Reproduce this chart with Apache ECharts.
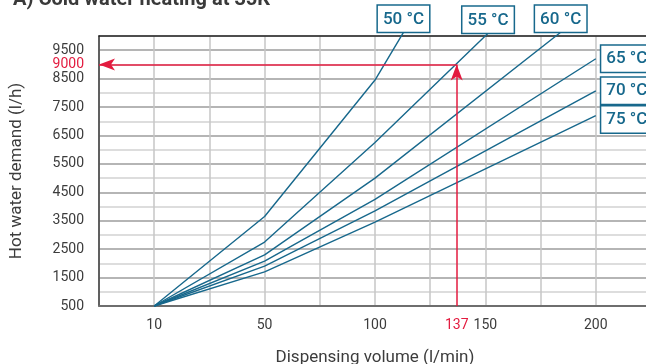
<!DOCTYPE html>
<html>
<head>
<meta charset="utf-8">
<script src="https://cdn.jsdelivr.net/npm/echarts@6/dist/echarts.min.js"></script>
<style>
  html, body { margin: 0; padding: 0; background: #ffffff; }
  #chart { width: 646px; height: 364px; }
</style>
</head>
<body>
<div id="chart"></div>
<script>
// Hot water demand (l/h) against dispensing volume (l/min), one curve per outlet temperature
const tempLabels = ['50 °C', '55 °C', '60 °C', '65 °C', '70 °C', '75 °C'];

const vol50 = [10, 50, 100, 112.9];
const dem50 = [500, 3650, 8450, 10130];
const vol55 = [10, 50, 100, 151.2];
const dem55 = [500, 2750, 6250, 10095];
const vol60 = [10, 50, 100, 184.1];
const dem60 = [500, 2300, 5000, 10130];
const vol65 = [10, 50, 100, 200];
const dem65 = [500, 2080, 4250, 9200];
const vol70 = [10, 50, 100, 200];
const dem70 = [500, 1900, 3850, 8070];
const vol75 = [10, 50, 100, 200];
const dem75 = [500, 1700, 3450, 7200];

const xTickValues = [10, 50, 100, 150, 200];
const yTickValues = [500, 1500, 2500, 3500, 4500, 5500, 6500, 7500, 8500, 9500];

// reading example: 137 l/min at 55 °C needs 9000 l/h
const lookupVolume = 137;
const lookupDemand = 9000;

const volumes = [vol50, vol55, vol60, vol65, vol70, vol75];
const demands = [dem50, dem55, dem60, dem65, dem70, dem75];

// The volume axis is stretched below 50 l/min: one grid cell is 20 l/min there and 25 l/min above.
const volToAxis = v => (v <= 50 ? 1 + (v - 10) / 20 : 3 + (v - 50) / 25);
const axisToVol = p => Math.round(p <= 3 ? 10 + (p - 1) * 20 : 50 + (p - 3) * 25);

const TEAL = '#17688c';
const RED = '#e31b3f';
const TEXT = '#3c3c3c';
const FONT = 'Roboto';

const boxLabel = {
  show: true,
  color: TEAL,
  fontFamily: FONT,
  fontSize: 17,
  fontWeight: 500,
  backgroundColor: '#ffffff',
  borderColor: TEAL,
  borderWidth: 1.5,
  padding: [5, 5, 4, 5]
};

const series = volumes.map((vols, i) => {
  const onTop = i < 3;
  const data = vols.map((v, k) => {
    const item = { value: [volToAxis(v), demands[i][k]] };
    if (k === vols.length - 1) {
      item.label = Object.assign({}, boxLabel, {
        formatter: tempLabels[i],
        position: onTop ? 'top' : 'right',
        distance: onTop ? 0 : 5,
        offset: i === 5 ? [0, 4] : [0, 0]
      });
    }
    return item;
  });
  return {
    type: 'line',
    name: tempLabels[i],
    data: data,
    clip: false,
    symbol: 'circle',
    symbolSize: 1,
    showSymbol: true,
    itemStyle: { color: 'rgba(0,0,0,0)' },
    lineStyle: { color: TEAL, width: 1.4 },
    label: { show: false },
    silent: true,
    z: 3
  };
});

// red reading arrows: up from the volume, then across to the demand axis
series.push({
  type: 'line',
  data: [],
  silent: true,
  z: 4,
  markLine: {
    silent: true,
    symbol: ['none', 'arrow'],
    symbolSize: [9, 16],
    label: { show: false },
    lineStyle: { color: RED, width: 1.5, type: 'solid' },
    data: [
      [{ coord: [volToAxis(lookupVolume), 500] }, { coord: [volToAxis(lookupVolume), lookupDemand] }],
      [{ coord: [volToAxis(lookupVolume), lookupDemand] }, { coord: [0, lookupDemand] }]
    ]
  }
});

const chart = echarts.init(document.getElementById('chart'), null, { renderer: 'canvas' });
chart.setOption({
  animation: false,
  backgroundColor: '#ffffff',
  title: {
    text: 'A) Cold water heating at 35K',
    left: 8,
    top: -15,
    textStyle: { fontFamily: FONT, fontSize: 20, fontWeight: 'bold', color: '#3a3a3a' }
  },
  grid: { left: 99, top: 36, width: 552, bottom: 58, outerBoundsMode: 'none', containLabel: false },
  xAxis: [{
    type: 'value',
    min: 0,
    max: 10,
    interval: 1,
    name: 'Dispensing volume (l/min)',
    nameLocation: 'middle',
    nameGap: 43,
    nameTextStyle: { fontFamily: FONT, fontSize: 17, color: TEXT },
    axisLine: { show: true, lineStyle: { color: '#6e6e6e', width: 2 } },
    axisTick: { show: false },
    axisLabel: {
      customValues: xTickValues.concat([lookupVolume]).map(volToAxis),
      formatter: p => {
        const v = axisToVol(p);
        return v === lookupVolume ? '{hl|' + v + '}' : String(v);
      },
      margin: 12,
      fontFamily: FONT,
      fontSize: 14,
      color: TEXT,
      rich: { hl: { color: RED, fontFamily: FONT, fontSize: 14 } }
    },
    splitLine: { show: true, lineStyle: { color: '#c6c6c6', width: 1.5 } }
  }, {
    type: 'value',
    position: 'top',
    min: 0,
    max: 10,
    axisLine: { show: true, lineStyle: { color: '#1e1e1e', width: 1.5 } },
    axisTick: { show: false },
    axisLabel: { show: false },
    splitLine: { show: false }
  }],
  yAxis: {
    type: 'value',
    min: 500,
    max: 10000,
    interval: 500,
    name: 'Hot water demand (l/h)',
    nameLocation: 'middle',
    nameGap: 74,
    nameTextStyle: { fontFamily: FONT, fontSize: 17, color: TEXT },
    axisLine: { show: true, lineStyle: { color: '#3a3a3a', width: 1.5 } },
    axisTick: { show: false },
    axisLabel: {
      margin: 15,
      fontFamily: FONT,
      fontSize: 14,
      color: TEXT,
      formatter: v => {
        if (v === lookupDemand) return '{hl|' + v + '}';
        return yTickValues.indexOf(v) >= 0 ? String(v) : '';
      },
      rich: { hl: { color: RED, fontFamily: FONT, fontSize: 14 } }
    },
    splitLine: { show: true, lineStyle: { color: ['#9c9c9c', '#d2d2d2'], width: 1.5 } }
  },
  series: series
});
</script>
</body>
</html>
